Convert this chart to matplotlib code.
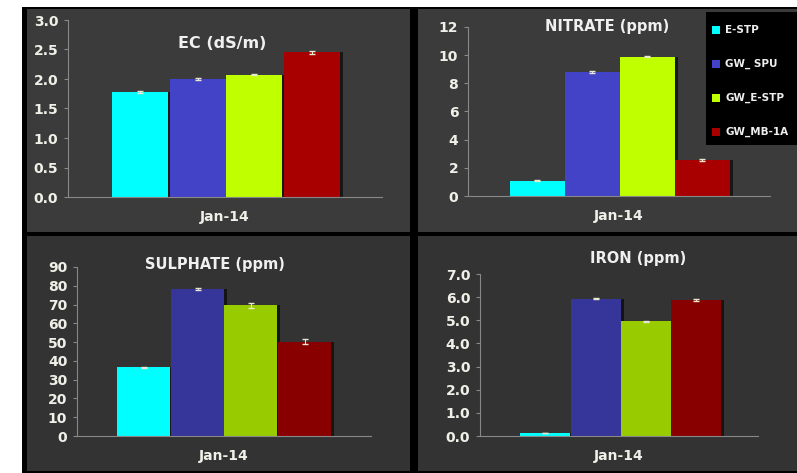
import numpy as np
import matplotlib
matplotlib.use("Agg")
import matplotlib.pyplot as plt
from matplotlib.patches import Rectangle

series = ['E-STP', 'GW_ SPU', 'GW_E-STP', 'GW_MB-1A']
month = 'Jan-14'

ec = [1.78, 2.00, 2.07, 2.45]
ec_err = [0.01, 0.02, 0.01, 0.02]
nitrate = [1.1, 8.8, 9.9, 2.55]
nitrate_err = [0.02, 0.05, 0.03, 0.05]
sulphate = [36.5, 78.3, 69.5, 50.3]
sulphate_err = [0.3, 0.5, 1.5, 1.5]
iron = [0.12, 5.93, 4.95, 5.88]
iron_err = [0.01, 0.02, 0.03, 0.05]

W, H = 797, 473
fig = plt.figure(figsize=(W / 100, H / 100), dpi=100, facecolor='white')


def rect(x, y, w, h):
    # pixel box (top-left origin) -> figure fraction
    return [x / W, 1 - (y + h) / H, w / W, h / H]


def bg(x, y, w, h, color, z=-5):
    l, b, ww, hh = rect(x, y, w, h)
    fig.patches.append(Rectangle((l, b), ww, hh, transform=fig.transFigure,
                                 facecolor=color, edgecolor='none', zorder=z))


# black frame and panel backgrounds
bg(22, 7, W - 22, H - 7, 'black', -10)
bg(27, 9, 383, 223, '#3b3b3b')
bg(418, 9, W - 418, 223, '#3b3b3b')
bg(27, 236, 383, 235, '#333333')
bg(418, 236, W - 418, 235, '#333333')

top_cols = ['#00ffff', '#4343c8', '#bfff00', '#a80000']
bot_cols = ['#00ffff', '#35359a', '#99cc00', '#880000']


def panel(box, vals, errs, title, ticks, fmt, cols, ymax, bar_x, bar_w, title_xy):
    ax = fig.add_axes(rect(*box))
    ax.set_facecolor('none')
    x = np.array(bar_x)
    ax.bar(x, vals, width=bar_w, color=cols, align='edge', zorder=2,
           edgecolor='none')
    # faint shadow to the right of each bar
    ax.bar(x + bar_w, vals, width=bar_w * 0.06, color='black', align='edge',
           zorder=1, alpha=0.6)
    ax.errorbar(x + bar_w / 2, vals, yerr=errs, fmt='none', ecolor='#e8e8d0',
                elinewidth=0.8, capsize=2.5, zorder=3)
    ax.set_xlim(0, 1)
    ax.set_ylim(0, ymax)
    ax.set_yticks(ticks)
    ax.set_yticklabels([fmt.format(t) for t in ticks], color='#f0f0e8',
                       fontsize=10, fontweight='bold')
    ax.tick_params(axis='y', length=3, color='#888888', pad=4)
    ax.set_xticks([])
    for s in ['top', 'right']:
        ax.spines[s].set_visible(False)
    ax.spines['left'].set_color('#888888')
    ax.spines['bottom'].set_color('#888888')
    ax.set_xlabel(month, color='#f0f0e8', fontsize=10, fontweight='bold',
                  labelpad=9)
    fig.text(title_xy[0] / W, 1 - title_xy[1] / H, title, color='#f0f0f0',
             fontsize=11.5 if 'EC' in title else 10.5, fontweight='bold',
             ha='center', va='center')
    return ax


# top-left: EC
panel((68, 20, 314, 177), ec, ec_err, 'EC (dS/m)', np.arange(0, 3.01, 0.5),
      '{:.1f}', top_cols, 3.0,
      [(112 - 68) / 314, (170 - 68) / 314, (226 - 68) / 314, (284 - 68) / 314],
      56 / 314, (222, 43))

# top-right: NITRATE
panel((468, 27, 302, 169), nitrate, nitrate_err, 'NITRATE (ppm)',
      np.arange(0, 12.1, 2), '{:.0f}', top_cols, 12,
      [(510 - 468) / 302, (565 - 468) / 302, (620 - 468) / 302, (675 - 468) / 302],
      55 / 302, (607, 27))

# bottom-left: SULPHATE
panel((77, 267, 294, 169), sulphate, sulphate_err, 'SULPHATE (ppm)',
      np.arange(0, 91, 10), '{:.0f}', bot_cols, 90,
      [(117 - 77) / 294, (171 - 77) / 294, (224 - 77) / 294, (278 - 77) / 294],
      53 / 294, (215, 265))

# bottom-right: IRON
panel((480, 274, 278, 162), iron, iron_err, 'IRON (ppm)',
      np.arange(0, 7.01, 1.0), '{:.1f}', bot_cols, 7.0,
      [(520 - 480) / 278, (571 - 480) / 278, (621 - 480) / 278, (671 - 480) / 278],
      50 / 278, (638, 258))

# legend box (black) in top-right panel
bg(706, 12, 91, 133, 'black', 5)
for i, (name, c) in enumerate(zip(series, top_cols)):
    yy = 30 + i * 34
    bg(712, yy - 4, 8, 8, c, 6)
    fig.text(725 / W, 1 - yy / H, name, color='#eeeeee', fontsize=7.5,
             fontweight='bold', ha='left', va='center', zorder=7)

fig.savefig('out.png', dpi=100, facecolor='white')
